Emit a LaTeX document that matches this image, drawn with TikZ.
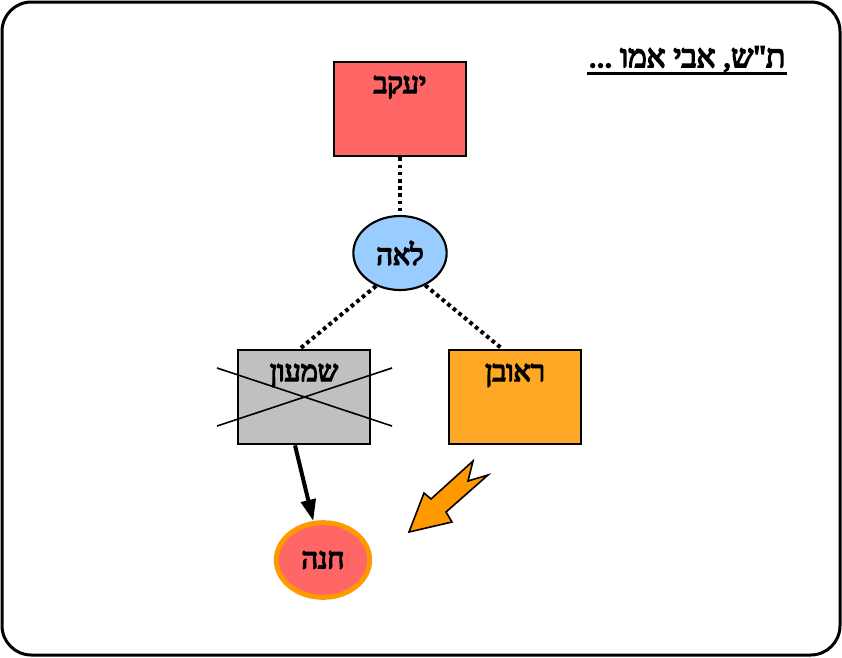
\documentclass[tikz,border=0pt]{standalone}
\usepackage{fontspec}
\newfontfamily\hebfont[Script=Hebrew, FakeBold=5]{Liberation Serif}
\TeXXeTstate=1
\usetikzlibrary{shapes, arrows, arrows.meta, calc, positioning}
\usepackage{xcolor}
\definecolor{boxred}{HTML}{FF6666}
\definecolor{leahblue}{HTML}{99CCFF}
\definecolor{boxgray}{HTML}{C0C0C0}
\definecolor{boxorange}{HTML}{FFA826}
\definecolor{darkorange}{HTML}{FF9900}

\begin{document}
\begin{tikzpicture}[x=0.75pt, y=-0.75pt, >={Triangle[length=16pt, width=11pt]},
    person/.style={draw, line width=2pt, minimum width=99pt, minimum height=70.5pt, font=\hebfont\fontsize{21.5}{24}\selectfont, text height=15pt, text depth=39pt},
    wife/.style={ellipse, draw, line width=1.6pt, font=\hebfont\fontsize{21.5}{24}\selectfont},
    kinship/.style={line width=3pt, dash pattern=on 2.8pt off 2.6pt}]

                      \useasboundingbox (0,0) rectangle (842,657);
                      \draw[line width=2.25pt, rounded corners=22pt] (2,2) rectangle (840,655);

                      \node[inner sep=0pt, anchor=base, font=\hebfont\fontsize{23.5}{26}\selectfont] (title) at (687,67) {\beginR ת"ש, אבי אמו ...\endR};
                      \draw[line width=2.25pt] ($(title.base west)+(-2,6)$) -- ($(title.base east)+(2,6)$);

                      \node[person, fill=boxred] (yaakov) at (400,109) {\beginR יעקב\endR};
                      \node[wife, fill=leahblue, minimum width=70pt, minimum height=55.5pt] (leah) at (400,253) {\beginR לאה\endR};
                      \node[person, fill=boxgray] (shimon) at (304,397) {\beginR שמעון\endR};
                      \node[person, fill=boxorange] (reuven) at (515,397) {\beginR ראובן\endR};
                      \node[wife, fill=boxred, draw=darkorange, line width=3.75pt, minimum width=70pt, minimum height=56pt] (hana) at (323,560) {\beginR חנה\endR};

                      \draw[kinship] (yaakov.south) -- (leah.north);
                      \draw[kinship] (leah.234) -- ($(shimon.north)+(-4,0)$);
                      \draw[kinship] (leah.308) -- ($(reuven.north)+(-13,0)$);

                      % crossed out
                      \draw[line width=1.2pt] ($(shimon.center)+(-87,-29)$) -- ($(shimon.center)+(88,29)$);
                      \draw[line width=1.2pt] ($(shimon.center)+(-87,29)$) -- ($(shimon.center)+(88,-29)$);

                      \draw[->, line width=3pt] ($(shimon.south)+(-9,0)$) -- (hana.104);

                      \filldraw[fill=darkorange, line width=1.2pt, line join=miter] (409,532) -- (424,493) -- (431,499) -- (473,461) -- (468,481) -- (488,475) -- (446,512) -- (452,522) -- cycle;

                    \end{tikzpicture}
\end{document}
